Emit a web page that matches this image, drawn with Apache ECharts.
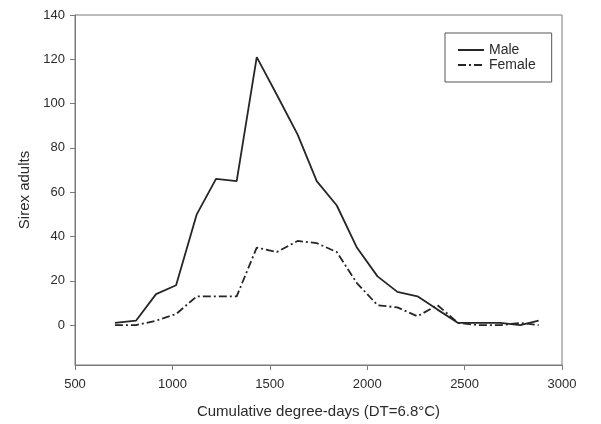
<!DOCTYPE html>
<html>
<head>
<meta charset="utf-8">
<script src="https://cdn.jsdelivr.net/npm/echarts@6/dist/echarts.min.js"></script>
<style>
  html, body { margin: 0; padding: 0; background: #fff; }
  #chart { width: 601px; height: 424px; }
</style>
</head>
<body>
<div id="chart"></div>
<script>
// cumulative degree-days at each sampling date
const degreeDays = [705, 813, 916, 1019, 1125, 1224, 1330, 1433, 1536, 1643, 1741,
                    1844, 1947, 2053, 2155, 2258, 2361, 2467, 2572, 2683, 2786, 2880]
const male   = [1, 2, 14, 18, 50, 66, 65, 121, 104, 86, 65, 54, 35, 22, 15, 13, 7, 1, 1, 1, 0, 2]
const female = [0, 0, 2, 5, 13, 13, 13, 35, 33, 38, 37, 33, 19, 9, 8, 4, 9, 1, 0, 0, 1, 0]
const yTicks = [0, 20, 40, 60, 80, 100, 120, 140]

const pairs = (ys) => degreeDays.map((x, i) => [x, ys[i]])

const axisGray = '#7a7a7a'
const textColor = '#2b2b2b'
const font = 'Liberation Sans, Arial, sans-serif'

let chart = echarts.init(document.getElementById('chart'), null, { renderer: 'canvas' })

let option = {
    animation: false,
    backgroundColor: '#fff',
    textStyle: { fontFamily: font },
    grid: { left: 75, top: 15, right: 39, bottom: 57, show: true, borderColor: axisGray, borderWidth: 1 },
    legend: {
        orient: 'vertical',
        left: 445,
        top: 33,
        padding: [10, 16, 10, 12],
        itemWidth: 26,
        itemHeight: 14,
        itemGap: 1,
        borderColor: '#555',
        borderWidth: 1,
        itemStyle: { color: 'transparent', borderColor: 'transparent', borderWidth: 0 },
        textStyle: { fontSize: 14, color: textColor, fontFamily: font },
        data: ['Male', 'Female']
    },
    xAxis: {
        type: 'value',
        min: 500,
        max: 3000,
        interval: 500,
        name: 'Cumulative degree-days (DT=6.8°C)',
        nameLocation: 'middle',
        nameGap: 39,
        nameTextStyle: { fontSize: 15, color: textColor, fontFamily: font },
        axisLine: { show: true, onZero: false, lineStyle: { color: axisGray, width: 1 } },
        axisTick: { show: true, length: 5, lineStyle: { color: axisGray } },
        axisLabel: { fontSize: 13, color: textColor, margin: 13, fontFamily: font,
                     formatter: (v) => String(v) },
        splitLine: { show: false }
    },
    yAxis: {
        type: 'value',
        min: -18,
        max: 140,
        name: 'Sirex adults',
        nameLocation: 'middle',
        nameGap: 43,
        nameTextStyle: { fontSize: 15, color: textColor, fontFamily: font },
        axisLine: { show: true, onZero: false, lineStyle: { color: axisGray, width: 1 } },
        axisTick: { show: true, length: 5, customValues: yTicks, lineStyle: { color: axisGray } },
        axisLabel: { fontSize: 13, color: textColor, margin: 10, customValues: yTicks, fontFamily: font,
                     formatter: (v) => String(v) },
        splitLine: { show: false }
    },
    series: [
        {
            name: 'Male',
            type: 'line',
            data: pairs(male),
            symbol: 'none',
            lineStyle: { color: '#262626', width: 1.8 },
            itemStyle: { color: '#262626' }
        },
        {
            name: 'Female',
            type: 'line',
            data: pairs(female),
            symbol: 'none',
            lineStyle: { color: '#262626', width: 1.8, type: [8, 3, 2, 3] },
            itemStyle: { color: '#262626' }
        }
    ]
}

chart.setOption(option)
</script>
</body>
</html>
